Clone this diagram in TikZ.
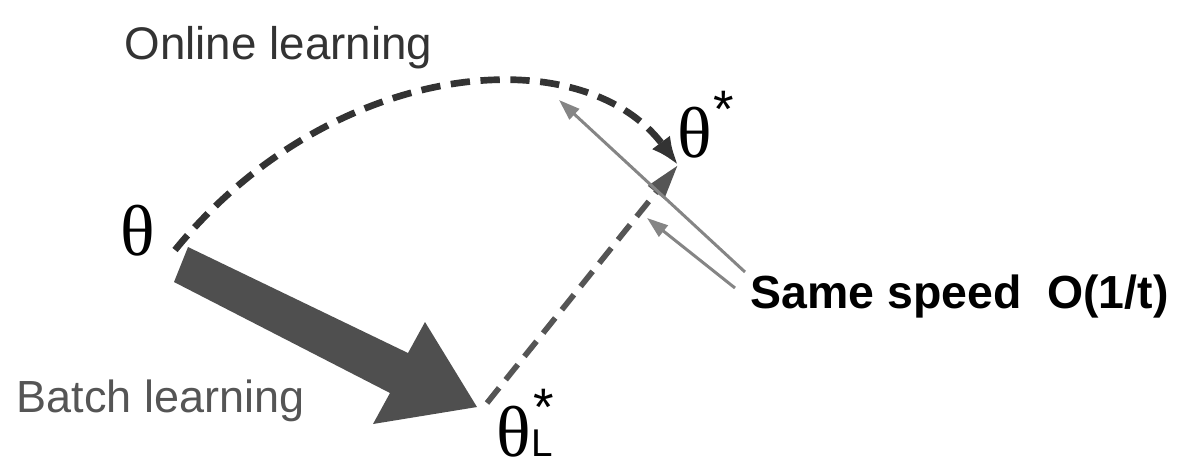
\documentclass[tikz,border=0pt]{standalone}
\usepackage{fontspec}
\setmainfont{Liberation Sans}
\newfontfamily\greekfont{Liberation Serif}
\usetikzlibrary{arrows.meta}
\definecolor{curvegray}{HTML}{333333}
\definecolor{arrowgray}{HTML}{4F4F4F}
\definecolor{linegray}{HTML}{555555}
\definecolor{speedgray}{HTML}{858585}
\newcommand{\bigtheta}{{\greekfont\fontsize{20.5}{22}\selectfont θ}}
\begin{document}
\begin{tikzpicture}[x=0.01cm, y=-0.01cm,
    txt/.style={inner sep=0pt, anchor=base west},
    greek/.style={txt, font=\greekfont\fontsize{20.5}{22}\selectfont},
    starlbl/.style={txt, font=\fontsize{15}{17}\selectfont},
    speedarrow/.style={-{Triangle[length=6pt,width=4pt]}, speedgray, line width=0.85pt}]
  \useasboundingbox (0,0) rectangle (1184,475);
  % labels
  \node[txt, curvegray, font=\fontsize{13}{15}\selectfont] (online) at (124,59) {Online learning};
  \node[txt, linegray, font=\fontsize{12.8}{14}\selectfont] (batch) at (16,412) {Batch learning};
  \node[txt, font=\bfseries\fontsize{13.2}{15}\selectfont] (speed) at (750,308) {Same speed\ \ O(1/t)};
  \node[greek] (th0) at (120,255) {θ};
  \node[greek] (thstar) at (677,157) {θ};
  \node[starlbl] (thstarsup) at (713,127) {*};
  \node[txt] (thL) at (496,456) {\bigtheta\rlap{\hspace{0.02cm}\fontsize{15}{17}\selectfont\raisebox{0.3cm}{*}}{\fontsize{11}{13}\selectfont L}};
  % end points
  \coordinate (start) at (175,250);
  \coordinate (tip) at (678,165);
  \coordinate (batchend) at (487,403);
  \coordinate (sp1) at (745,272);
  \coordinate (sp2) at (735,288);
  \coordinate (up1) at (559,100);
  \coordinate (up2) at (647,218);
  % batch arrow
  \fill[arrowgray] (188,247) -- (408,353) -- (425,322) -- (477,407)
    -- (373,424) -- (390,393) -- (174,282) -- cycle;
  % online path
  \draw[curvegray, line width=1.9pt, dash pattern=on 5.5pt off 3pt,
    -{Latex[length=8pt,width=6.5pt]}]
    (start) .. controls (330,60) and (580,35) .. (tip);
  \draw[linegray, line width=1.6pt, dash pattern=on 5.5pt off 3pt,
    -{Triangle[length=10pt,width=5.5pt]}] (batchend) -- (tip);
  \draw[speedarrow] (sp1) -- (up1);
  \draw[speedarrow] (sp2) -- (up2);
\end{tikzpicture}
\end{document}
